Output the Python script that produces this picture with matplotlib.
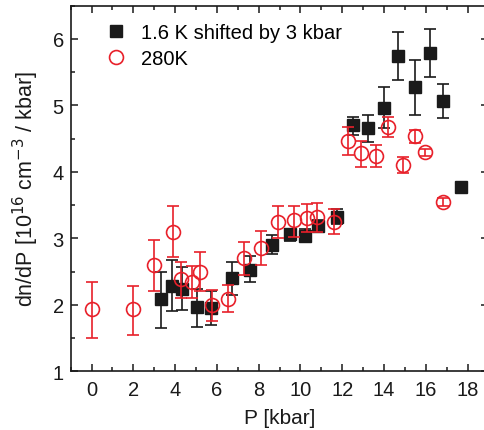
import matplotlib
matplotlib.use("Agg")
import matplotlib.pyplot as plt
import numpy as np
from matplotlib.ticker import MultipleLocator
from matplotlib.lines import Line2D

plt.rcParams['font.family'] = ['Liberation Sans', 'DejaVu Sans']

# 1.6 K shifted by 3 kbar
p_cold = [3.30, 3.83, 4.31, 5.03, 5.70, 6.70, 7.58, 8.62, 9.49, 10.21, 10.82, 11.73,
          12.49, 13.21, 14.01, 14.68, 15.48, 16.20, 16.80, 17.68]
v_cold = [2.09, 2.28, 2.24, 1.96, 1.95, 2.40, 2.53, 2.90, 3.06, 3.04, 3.19, 3.32,
          4.70, 4.66, 4.96, 5.74, 5.27, 5.79, 5.07, 3.78]
lo_cold = [1.65, 1.90, 1.92, 1.67, 1.70, 2.15, 2.34, 2.77, 2.96, 2.97, 3.11, 3.21,
           4.56, 4.45, 4.66, 5.38, 4.85, 5.43, 4.81, 3.78]
hi_cold = [2.50, 2.67, 2.57, 2.24, 2.21, 2.64, 2.73, 3.05, 3.14, 3.14, 3.28, 3.44,
           4.83, 4.86, 5.28, 6.10, 5.68, 6.15, 5.32, 3.78]

# 280 K
p_warm = [0.00, 2.00, 3.00, 3.88, 4.28, 4.79, 5.19, 5.78, 6.51, 7.31, 8.11, 8.90,
          9.70, 10.29, 10.80, 11.62, 12.29, 12.89, 13.61, 14.17, 14.89, 15.48, 15.96, 16.80]
v_warm = [1.93, 1.93, 2.60, 3.10, 2.39, 2.35, 2.50, 1.99, 2.09, 2.70, 2.85, 3.25,
          3.27, 3.30, 3.32, 3.25, 4.47, 4.28, 4.24, 4.67, 4.11, 4.54, 4.30, 3.54]
lo_warm = [1.50, 1.55, 2.21, 2.72, 2.10, 2.10, 2.21, 1.75, 1.89, 2.45, 2.60, 3.00,
           3.02, 3.10, 3.10, 3.07, 4.26, 4.08, 4.08, 4.52, 3.99, 4.44, 4.24, 3.49]
hi_warm = [2.35, 2.29, 2.98, 3.48, 2.65, 2.59, 2.79, 2.22, 2.30, 2.94, 3.11, 3.49,
           3.49, 3.52, 3.53, 3.44, 4.68, 4.46, 4.41, 4.83, 4.23, 4.63, 4.35, 3.60]

x_ticks = [0, 2, 4, 6, 8, 10, 12, 14, 16, 18]
y_ticks = [1, 2, 3, 4, 5, 6]
labels = ['1.6 K shifted by 3 kbar', '280K']

black = '#1a1a1a'
red = '#e8202a'

fig = plt.figure(figsize=(4.85, 4.31), dpi=100)
W, H = 485, 431
left, right, top, bottom = 70.7, 488.5, 6.7, 372.3
ax = fig.add_axes([left / W, 1 - bottom / H, (right - left) / W, (bottom - top) / H])

vc = np.array(v_cold)
vw = np.array(v_warm)
ax.errorbar(p_cold, v_cold, yerr=[vc - np.array(lo_cold), np.array(hi_cold) - vc],
            fmt='s', color=black, ecolor=black, ms=8.5, mec=black, mfc=black,
            elinewidth=1.2, capsize=4.3, capthick=1.2, zorder=2)
ax.errorbar(p_warm, v_warm, yerr=[vw - np.array(lo_warm), np.array(hi_warm) - vw],
            fmt='o', color=red, ecolor=red, ms=10, mec=red, mfc='none', mew=1.2,
            elinewidth=1.2, capsize=4.3, capthick=1.2, zorder=3)

ax.set_xlim(-1, 19)
ax.set_ylim(1, 6.5)
ax.set_xticks(x_ticks)
ax.set_yticks(y_ticks)
ax.xaxis.set_minor_locator(MultipleLocator(1))
ax.yaxis.set_minor_locator(MultipleLocator(0.5))
ax.tick_params(which='both', direction='in', top=True, right=True, colors=black,
               labelsize=14.5, width=1.1)
ax.tick_params(which='major', length=5)
ax.tick_params(which='minor', length=3)
ax.tick_params(axis='x', pad=6)
ax.tick_params(axis='y', pad=5)
for s in ax.spines.values():
    s.set_linewidth(1.2)
    s.set_color(black)

ax.set_xlabel('P [kbar]', fontsize=15, color=black, labelpad=7)
ax.set_ylabel(r'dn/dP [10$^{16}$ cm$^{-3}$ / kbar]', fontsize=15.5, color=black, labelpad=8)

handles = [Line2D([], [], ls='none', marker='s', ms=8.5, mfc=black, mec=black),
           Line2D([], [], ls='none', marker='o', ms=10, mfc='none', mec=red, mew=1.2)]
ax.legend(handles, labels, loc='upper left', bbox_to_anchor=(0.065, 0.975), frameon=False,
          fontsize=14.5, handlelength=1.0, handletextpad=0.75, labelspacing=0.35,
          borderaxespad=0.0)

fig.savefig('out.png', dpi=100)
